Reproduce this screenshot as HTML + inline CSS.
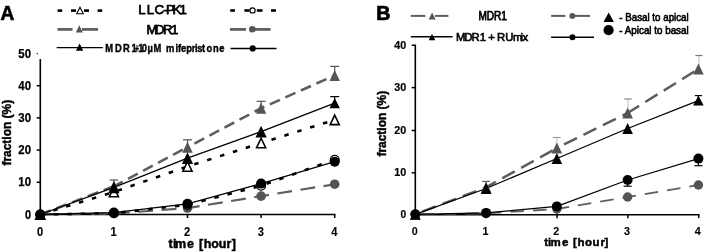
<!DOCTYPE html>
<html lang="en">
<head>
<meta charset="utf-8">
<title>Figure: transport fraction over time</title>
<style>
html,body{margin:0;padding:0;background:#fff;}
body{width:708px;height:252px;overflow:hidden;}
svg{display:block;font-family:"Liberation Sans", Arial, Helvetica, sans-serif;filter:blur(0.45px);}
</style>
</head>
<body>
<svg width="708" height="252" viewBox="0 0 708 252">
<rect x="0" y="0" width="708" height="252" fill="#fff"/>
<line x1="40.30" y1="59.00" x2="40.30" y2="215.25" stroke="#000" stroke-width="1.6"/>
<line x1="39.50" y1="214.50" x2="335.50" y2="214.50" stroke="#000" stroke-width="1.6"/>
<line x1="40.30" y1="214.50" x2="40.30" y2="218.00" stroke="#000" stroke-width="1.5"/>
<line x1="113.90" y1="214.50" x2="113.90" y2="218.00" stroke="#000" stroke-width="1.5"/>
<line x1="187.50" y1="214.50" x2="187.50" y2="218.00" stroke="#000" stroke-width="1.5"/>
<line x1="261.10" y1="214.50" x2="261.10" y2="218.00" stroke="#000" stroke-width="1.5"/>
<line x1="334.70" y1="214.50" x2="334.70" y2="218.00" stroke="#000" stroke-width="1.5"/>
<line x1="36.70" y1="214.50" x2="40.30" y2="214.50" stroke="#000" stroke-width="1.5"/>
<line x1="36.70" y1="182.30" x2="40.30" y2="182.30" stroke="#000" stroke-width="1.5"/>
<line x1="36.70" y1="150.10" x2="40.30" y2="150.10" stroke="#000" stroke-width="1.5"/>
<line x1="36.70" y1="117.90" x2="40.30" y2="117.90" stroke="#000" stroke-width="1.5"/>
<line x1="36.70" y1="85.70" x2="40.30" y2="85.70" stroke="#000" stroke-width="1.5"/>
<rect x="36.7" y="52.9" width="1.3" height="1.3" fill="#333"/>
<text x="31.00" y="218.60" font-size="13" font-weight="bold" text-anchor="end" fill="#000" textLength="6.1" lengthAdjust="spacingAndGlyphs" stroke="#000" stroke-width="0.25">0</text>
<text x="31.00" y="186.40" font-size="13" font-weight="bold" text-anchor="end" fill="#000" textLength="12.7" lengthAdjust="spacingAndGlyphs" stroke="#000" stroke-width="0.25">10</text>
<text x="31.00" y="154.20" font-size="13" font-weight="bold" text-anchor="end" fill="#000" textLength="12.7" lengthAdjust="spacingAndGlyphs" stroke="#000" stroke-width="0.25">20</text>
<text x="31.00" y="122.00" font-size="13" font-weight="bold" text-anchor="end" fill="#000" textLength="12.7" lengthAdjust="spacingAndGlyphs" stroke="#000" stroke-width="0.25">30</text>
<text x="31.00" y="89.80" font-size="13" font-weight="bold" text-anchor="end" fill="#000" textLength="12.7" lengthAdjust="spacingAndGlyphs" stroke="#000" stroke-width="0.25">40</text>
<text x="31.00" y="57.60" font-size="13" font-weight="bold" text-anchor="end" fill="#000" textLength="12.7" lengthAdjust="spacingAndGlyphs" stroke="#000" stroke-width="0.25">50</text>
<text x="40.00" y="235.60" font-size="12.3" font-weight="bold" text-anchor="middle" fill="#000" textLength="6.2" lengthAdjust="spacingAndGlyphs" stroke="#000" stroke-width="0.1">0</text>
<text x="113.60" y="235.60" font-size="12.3" font-weight="bold" text-anchor="middle" fill="#000" textLength="6.2" lengthAdjust="spacingAndGlyphs" stroke="#000" stroke-width="0.1">1</text>
<text x="187.20" y="235.60" font-size="12.3" font-weight="bold" text-anchor="middle" fill="#000" textLength="6.2" lengthAdjust="spacingAndGlyphs" stroke="#000" stroke-width="0.1">2</text>
<text x="260.80" y="235.60" font-size="12.3" font-weight="bold" text-anchor="middle" fill="#000" textLength="6.2" lengthAdjust="spacingAndGlyphs" stroke="#000" stroke-width="0.1">3</text>
<text x="334.40" y="235.60" font-size="12.3" font-weight="bold" text-anchor="middle" fill="#000" textLength="6.2" lengthAdjust="spacingAndGlyphs" stroke="#000" stroke-width="0.1">4</text>
<text x="168.6 172.9 175.0 187.1 194 199.0 203.7 211.3 218.7 226.4 231.7" y="248.0" font-size="12.5" font-weight="bold" stroke="#000" stroke-width="0.45">time [hour]</text>
<text transform="translate(10.7,165.6) rotate(-90)" font-size="13" font-weight="bold" stroke="#000" stroke-width="0.45" textLength="65.8" lengthAdjust="spacingAndGlyphs">fraction (%)</text>
<polyline points="40.30,214.50 113.90,213.53 187.50,208.06 261.10,196.15 334.70,184.23" fill="none" stroke="#5e5e5e" stroke-width="2.2" stroke-linejoin="round" stroke-dasharray="14.9 8.5" stroke-dashoffset="-4.38"/>
<polyline points="40.30,214.50 113.90,186.32" fill="none" stroke="#5e5e5e" stroke-width="2.6" stroke-linejoin="round" stroke-dasharray="11 6"/>
<polyline points="113.90,186.32 187.50,147.20" fill="none" stroke="#5e5e5e" stroke-width="2.6" stroke-linejoin="round" stroke-dasharray="11 6" stroke-dashoffset="-16"/>
<polyline points="187.50,147.20 261.10,108.24 334.70,75.40" fill="none" stroke="#5e5e5e" stroke-width="2.6" stroke-linejoin="round" stroke-dasharray="11 6" stroke-dashoffset="9.160648821810156"/>
<polyline points="40.30,214.50 113.90,213.21 187.50,204.84 261.10,185.68 334.70,159.76" fill="none" stroke="#000" stroke-width="2.6" stroke-linejoin="round" stroke-dasharray="4.5 9"/>
<polyline points="40.30,214.50 113.90,191.96 187.50,166.52 261.10,143.02 334.70,119.83" fill="none" stroke="#000" stroke-width="2.6" stroke-linejoin="round" stroke-dasharray="4.5 9"/>
<polyline points="40.30,214.50 113.90,212.57 187.50,203.87 261.10,183.59 334.70,161.69" fill="none" stroke="#000" stroke-width="1.3" stroke-linejoin="round"/>
<polyline points="40.30,214.50 113.90,187.29 187.50,158.15 261.10,131.58 334.70,103.09" fill="none" stroke="#000" stroke-width="1.3" stroke-linejoin="round"/>
<line x1="334.70" y1="66.40" x2="334.70" y2="75.40" stroke="#545454" stroke-width="1.2"/>
<line x1="330.20" y1="66.40" x2="339.20" y2="66.40" stroke="#545454" stroke-width="1.2"/>
<line x1="261.10" y1="101.30" x2="261.10" y2="108.24" stroke="#545454" stroke-width="1.2"/>
<line x1="256.60" y1="101.30" x2="265.60" y2="101.30" stroke="#545454" stroke-width="1.2"/>
<line x1="187.50" y1="139.80" x2="187.50" y2="147.20" stroke="#545454" stroke-width="1.2"/>
<line x1="183.00" y1="139.80" x2="192.00" y2="139.80" stroke="#545454" stroke-width="1.2"/>
<line x1="113.90" y1="180.00" x2="113.90" y2="186.32" stroke="#555" stroke-width="1.2"/>
<line x1="109.65" y1="180.00" x2="118.15" y2="180.00" stroke="#555" stroke-width="1.2"/>
<line x1="334.70" y1="96.60" x2="334.70" y2="103.09" stroke="#000" stroke-width="1.2"/>
<line x1="330.20" y1="96.60" x2="339.20" y2="96.60" stroke="#000" stroke-width="1.2"/>
<circle cx="40.30" cy="214.50" r="4.8" fill="#545454"/>
<polygon points="40.30,209.00 45.50,220.00 35.10,220.00" fill="#545454"/>
<circle cx="113.90" cy="213.53" r="4.8" fill="#545454"/>
<polygon points="113.90,180.82 119.10,191.82 108.70,191.82" fill="#545454"/>
<circle cx="187.50" cy="208.06" r="4.8" fill="#545454"/>
<polygon points="187.50,141.70 192.70,152.70 182.30,152.70" fill="#545454"/>
<circle cx="261.10" cy="196.15" r="4.8" fill="#545454"/>
<polygon points="261.10,102.74 266.30,113.74 255.90,113.74" fill="#545454"/>
<circle cx="334.70" cy="184.23" r="4.8" fill="#545454"/>
<polygon points="334.70,69.90 339.90,80.90 329.50,80.90" fill="#545454"/>
<polygon points="40.30,209.75 44.85,219.25 35.75,219.25" fill="#fff" stroke="#000" stroke-width="1.6" stroke-linejoin="miter"/>
<circle cx="40.30" cy="214.50" r="4.4" fill="#fff" stroke="#000" stroke-width="1.3"/>
<polygon points="113.90,187.21 118.45,196.71 109.35,196.71" fill="#fff" stroke="#000" stroke-width="1.6" stroke-linejoin="miter"/>
<circle cx="113.90" cy="213.21" r="4.4" fill="#fff" stroke="#000" stroke-width="1.3"/>
<polygon points="187.50,161.77 192.05,171.27 182.95,171.27" fill="#fff" stroke="#000" stroke-width="1.6" stroke-linejoin="miter"/>
<circle cx="187.50" cy="204.84" r="4.4" fill="#fff" stroke="#000" stroke-width="1.3"/>
<polygon points="261.10,138.27 265.65,147.77 256.55,147.77" fill="#fff" stroke="#000" stroke-width="1.6" stroke-linejoin="miter"/>
<circle cx="261.10" cy="185.68" r="4.4" fill="#fff" stroke="#000" stroke-width="1.3"/>
<polygon points="334.70,115.08 339.25,124.58 330.15,124.58" fill="#fff" stroke="#000" stroke-width="1.6" stroke-linejoin="miter"/>
<circle cx="334.70" cy="159.76" r="4.4" fill="#fff" stroke="#000" stroke-width="1.3"/>
<polygon points="40.30,209.35 45.50,219.65 35.10,219.65" fill="#000"/>
<circle cx="40.30" cy="214.50" r="5.0" fill="#000"/>
<polygon points="113.90,181.39 119.50,193.19 108.30,193.19" fill="#000"/>
<circle cx="113.90" cy="212.57" r="5.0" fill="#000"/>
<polygon points="187.50,152.25 193.10,164.05 181.90,164.05" fill="#000"/>
<circle cx="187.50" cy="203.87" r="5.0" fill="#000"/>
<polygon points="261.10,125.68 266.70,137.48 255.50,137.48" fill="#000"/>
<circle cx="261.10" cy="183.59" r="5.0" fill="#000"/>
<polygon points="334.70,97.94 339.90,108.24 329.50,108.24" fill="#000"/>
<circle cx="334.70" cy="161.69" r="5.0" fill="#000"/>
<text x="0.50" y="19.80" font-size="20" font-weight="bold" text-anchor="start" fill="#000" textLength="13.8" lengthAdjust="spacingAndGlyphs" stroke="#000" stroke-width="0.7">A</text>
<line x1="57.50" y1="10.60" x2="62.20" y2="10.60" stroke="#000" stroke-width="2.6"/>
<line x1="71.00" y1="10.60" x2="76.00" y2="10.60" stroke="#000" stroke-width="2.6"/>
<line x1="84.00" y1="10.60" x2="89.00" y2="10.60" stroke="#000" stroke-width="2.6"/>
<line x1="97.60" y1="10.60" x2="102.20" y2="10.60" stroke="#000" stroke-width="2.6"/>
<polygon points="80.00,7.20 83.30,13.80 76.70,13.80" fill="#fff" stroke="#000" stroke-width="1.1" stroke-linejoin="miter"/>
<line x1="230.20" y1="10.50" x2="234.90" y2="10.50" stroke="#000" stroke-width="2.6"/>
<line x1="244.40" y1="10.50" x2="249.40" y2="10.50" stroke="#000" stroke-width="2.6"/>
<line x1="256.80" y1="10.50" x2="262.50" y2="10.50" stroke="#000" stroke-width="2.6"/>
<line x1="271.00" y1="10.50" x2="275.90" y2="10.50" stroke="#000" stroke-width="2.6"/>
<circle cx="252.50" cy="10.40" r="2.6" fill="#fff" stroke="#000" stroke-width="1.2"/>
<text x="138.3 146.7 154.5 163.2 166.0 172.4 179.6" y="14.4" font-size="13.2" stroke="#000" stroke-width="0.75">LLC-PK1</text>
<line x1="57.50" y1="29.40" x2="72.50" y2="29.40" stroke="#606060" stroke-width="2.8"/>
<line x1="82.00" y1="29.40" x2="98.00" y2="29.40" stroke="#606060" stroke-width="2.8"/>
<polygon points="79.30,25.20 82.80,32.60 75.80,32.60" fill="#555"/>
<line x1="230.00" y1="29.40" x2="246.00" y2="29.40" stroke="#606060" stroke-width="2.8"/>
<line x1="254.50" y1="29.40" x2="270.60" y2="29.40" stroke="#606060" stroke-width="2.8"/>
<circle cx="252.30" cy="29.30" r="3.3" fill="#555"/>
<text x="146.5 155.0 163.1 171.0" y="33.6" font-size="13.2" stroke="#000" stroke-width="0.75">MDR1</text>
<line x1="56.70" y1="47.60" x2="102.90" y2="47.60" stroke="#000" stroke-width="1.4"/>
<polygon points="79.60,43.40 83.30,50.80 75.90,50.80" fill="#000"/>
<line x1="230.50" y1="48.50" x2="276.50" y2="48.50" stroke="#000" stroke-width="1.4"/>
<circle cx="252.70" cy="48.40" r="3.1" fill="#000"/>
<text transform="scale(0.85 1)" y="51.7" font-size="11" font-weight="bold" stroke="#000" stroke-width="0.4"><tspan x="123.88 135.18 144.82 154.71">MDR1</tspan><tspan x="158.82" textLength="4.59" lengthAdjust="spacingAndGlyphs">+</tspan><tspan x="162.71 166.82 173.65 180.71 190.59 195.41 206.41 209.29 213.06 219.12 225.47 229.35 232.00 237.76 243.06 250.65 258.00">10µM mifepristone</tspan></text>
<line x1="415.30" y1="44.60" x2="415.30" y2="215.55" stroke="#000" stroke-width="1.6"/>
<line x1="414.50" y1="214.75" x2="699.52" y2="214.75" stroke="#000" stroke-width="1.7"/>
<line x1="415.30" y1="214.75" x2="415.30" y2="218.15" stroke="#000" stroke-width="1.5"/>
<line x1="486.16" y1="214.75" x2="486.16" y2="218.15" stroke="#000" stroke-width="1.5"/>
<line x1="557.01" y1="214.75" x2="557.01" y2="218.15" stroke="#000" stroke-width="1.5"/>
<line x1="627.87" y1="214.75" x2="627.87" y2="218.15" stroke="#000" stroke-width="1.5"/>
<line x1="698.72" y1="214.75" x2="698.72" y2="218.15" stroke="#000" stroke-width="1.5"/>
<line x1="411.70" y1="214.30" x2="415.30" y2="214.30" stroke="#000" stroke-width="1.5"/>
<line x1="411.70" y1="172.80" x2="415.30" y2="172.80" stroke="#000" stroke-width="1.5"/>
<line x1="411.70" y1="130.50" x2="415.30" y2="130.50" stroke="#000" stroke-width="1.5"/>
<line x1="411.70" y1="87.60" x2="415.30" y2="87.60" stroke="#000" stroke-width="1.5"/>
<line x1="411.70" y1="45.30" x2="415.30" y2="45.30" stroke="#000" stroke-width="1.5"/>
<text x="406.30" y="217.90" font-size="11.5" font-weight="bold" text-anchor="end" fill="#000" textLength="5.7" lengthAdjust="spacingAndGlyphs" stroke="#000" stroke-width="0.2">0</text>
<text x="406.30" y="176.40" font-size="11.5" font-weight="bold" text-anchor="end" fill="#000" textLength="12.0" lengthAdjust="spacingAndGlyphs" stroke="#000" stroke-width="0.2">10</text>
<text x="406.30" y="134.10" font-size="11.5" font-weight="bold" text-anchor="end" fill="#000" textLength="12.0" lengthAdjust="spacingAndGlyphs" stroke="#000" stroke-width="0.2">20</text>
<text x="406.30" y="91.20" font-size="11.5" font-weight="bold" text-anchor="end" fill="#000" textLength="12.0" lengthAdjust="spacingAndGlyphs" stroke="#000" stroke-width="0.2">30</text>
<text x="406.30" y="48.90" font-size="11.5" font-weight="bold" text-anchor="end" fill="#000" textLength="12.0" lengthAdjust="spacingAndGlyphs" stroke="#000" stroke-width="0.2">40</text>
<text x="414.70" y="235.00" font-size="11.5" font-weight="bold" text-anchor="middle" fill="#000" textLength="6.0" lengthAdjust="spacingAndGlyphs" stroke="#000" stroke-width="0.1">0</text>
<text x="485.48" y="235.00" font-size="11.5" font-weight="bold" text-anchor="middle" fill="#000" textLength="6.0" lengthAdjust="spacingAndGlyphs" stroke="#000" stroke-width="0.1">1</text>
<text x="556.26" y="235.00" font-size="11.5" font-weight="bold" text-anchor="middle" fill="#000" textLength="6.0" lengthAdjust="spacingAndGlyphs" stroke="#000" stroke-width="0.1">2</text>
<text x="627.04" y="235.00" font-size="11.5" font-weight="bold" text-anchor="middle" fill="#000" textLength="6.0" lengthAdjust="spacingAndGlyphs" stroke="#000" stroke-width="0.1">3</text>
<text x="697.82" y="235.00" font-size="11.5" font-weight="bold" text-anchor="middle" fill="#000" textLength="6.0" lengthAdjust="spacingAndGlyphs" stroke="#000" stroke-width="0.1">4</text>
<text x="544.2 548.1 550.6 562.0 569 573.0 577.6 585.1 592.5 600.5 604.6" y="245.9" font-size="11.5" font-weight="bold" stroke="#000" stroke-width="0.45">time [hour]</text>
<text transform="translate(385.5,156.6) rotate(-90)" font-size="12.2" font-weight="bold" stroke="#000" stroke-width="0.45" textLength="65.8" lengthAdjust="spacingAndGlyphs">fraction (%)</text>
<polyline points="415.30,214.30 486.08,213.40 556.86,209.00 627.64,197.00 698.42,185.00" fill="none" stroke="#5e5e5e" stroke-width="1.8" stroke-linejoin="round" stroke-dasharray="13.6 9.0" stroke-dashoffset="-4.84"/>
<polyline points="415.30,214.30 486.08,187.30 556.86,148.00" fill="none" stroke="#5e5e5e" stroke-width="2.5" stroke-linejoin="round" stroke-dasharray="14.4 7.3" stroke-dashoffset="-7.39"/>
<polyline points="556.86,148.00 627.64,113.00" fill="none" stroke="#5e5e5e" stroke-width="2.5" stroke-linejoin="round" stroke-dasharray="14.4 7.3" stroke-dashoffset="-7.97"/>
<polyline points="627.64,113.00 698.42,69.00" fill="none" stroke="#5e5e5e" stroke-width="2.5" stroke-linejoin="round" stroke-dasharray="14.4 7.3" stroke-dashoffset="-20.79"/>
<polyline points="415.30,214.30 486.08,212.90 556.86,206.40 627.64,180.00 698.42,158.60" fill="none" stroke="#000" stroke-width="1.3" stroke-linejoin="round"/>
<polyline points="415.30,214.30 486.08,188.50 556.86,158.50 627.64,128.50 698.42,100.60" fill="none" stroke="#000" stroke-width="1.3" stroke-linejoin="round"/>
<line x1="698.92" y1="55.50" x2="698.92" y2="69.00" stroke="#c8c8c8" stroke-width="1.2"/>
<line x1="695.42" y1="55.50" x2="702.42" y2="55.50" stroke="#777" stroke-width="1.2"/>
<line x1="627.94" y1="99.00" x2="627.94" y2="113.00" stroke="#c8c8c8" stroke-width="1.2"/>
<line x1="624.19" y1="99.00" x2="631.69" y2="99.00" stroke="#888" stroke-width="1.2"/>
<line x1="556.86" y1="137.50" x2="556.86" y2="148.00" stroke="#d0d0d0" stroke-width="1.2"/>
<line x1="553.11" y1="137.50" x2="560.61" y2="137.50" stroke="#999" stroke-width="1.2"/>
<line x1="486.08" y1="181.40" x2="486.08" y2="188.50" stroke="#555" stroke-width="1.1"/>
<line x1="482.08" y1="181.40" x2="490.08" y2="181.40" stroke="#555" stroke-width="1.1"/>
<line x1="698.42" y1="95.60" x2="698.42" y2="100.60" stroke="#000" stroke-width="1.2"/>
<line x1="694.82" y1="95.60" x2="702.02" y2="95.60" stroke="#000" stroke-width="1.2"/>
<line x1="698.42" y1="165.70" x2="698.42" y2="158.60" stroke="#000" stroke-width="1.2"/>
<line x1="694.42" y1="165.70" x2="702.42" y2="165.70" stroke="#000" stroke-width="1.2"/>
<line x1="627.64" y1="186.20" x2="627.64" y2="180.00" stroke="#000" stroke-width="1.2"/>
<line x1="623.64" y1="186.20" x2="631.64" y2="186.20" stroke="#000" stroke-width="1.2"/>
<line x1="556.86" y1="214.00" x2="556.86" y2="209.00" stroke="#555" stroke-width="1.2"/>
<circle cx="415.30" cy="214.30" r="4.7" fill="#545454"/>
<polygon points="415.30,208.80 420.60,219.80 410.00,219.80" fill="#545454"/>
<circle cx="486.08" cy="213.40" r="4.7" fill="#545454"/>
<polygon points="486.08,181.80 491.38,192.80 480.78,192.80" fill="#545454"/>
<circle cx="556.86" cy="209.00" r="4.7" fill="#545454"/>
<polygon points="556.86,142.50 562.16,153.50 551.56,153.50" fill="#545454"/>
<circle cx="627.64" cy="197.00" r="4.7" fill="#545454"/>
<polygon points="627.64,107.50 632.94,118.50 622.34,118.50" fill="#545454"/>
<circle cx="698.42" cy="185.00" r="4.7" fill="#545454"/>
<polygon points="698.42,63.50 703.72,74.50 693.12,74.50" fill="#545454"/>
<polygon points="415.30,208.80 420.60,219.80 410.00,219.80" fill="#000"/>
<circle cx="415.30" cy="214.30" r="5.0" fill="#000"/>
<polygon points="486.08,183.00 491.38,194.00 480.78,194.00" fill="#000"/>
<circle cx="486.08" cy="212.90" r="5.0" fill="#000"/>
<polygon points="556.86,153.00 562.16,164.00 551.56,164.00" fill="#000"/>
<circle cx="556.86" cy="206.40" r="5.0" fill="#000"/>
<polygon points="627.64,123.00 632.94,134.00 622.34,134.00" fill="#000"/>
<circle cx="627.64" cy="180.00" r="5.0" fill="#000"/>
<polygon points="698.42,95.70 703.72,105.50 693.12,105.50" fill="#000"/>
<circle cx="698.42" cy="158.60" r="5.0" fill="#000"/>
<text x="376.20" y="19.80" font-size="20" font-weight="bold" text-anchor="start" fill="#000" textLength="14.2" lengthAdjust="spacingAndGlyphs" stroke="#000" stroke-width="0.7">B</text>
<line x1="410.80" y1="15.90" x2="425.40" y2="15.90" stroke="#5e5e5e" stroke-width="2.0"/>
<line x1="435.00" y1="15.90" x2="448.40" y2="15.90" stroke="#5e5e5e" stroke-width="2.0"/>
<polygon points="432.10,12.60 435.60,19.40 428.60,19.40" fill="#545454"/>
<line x1="551.10" y1="15.90" x2="565.40" y2="15.90" stroke="#5e5e5e" stroke-width="2.0"/>
<line x1="574.50" y1="15.90" x2="590.00" y2="15.90" stroke="#5e5e5e" stroke-width="2.0"/>
<circle cx="572.30" cy="15.90" r="2.9" fill="#545454"/>
<text x="478.40" y="19.80" font-size="11.9" font-weight="normal" text-anchor="start" fill="#000" textLength="28.6" lengthAdjust="spacingAndGlyphs" stroke="#000" stroke-width="0.75">MDR1</text>
<line x1="410.80" y1="36.80" x2="452.60" y2="36.80" stroke="#000" stroke-width="1.4"/>
<polygon points="432.00,33.70 435.40,40.30 428.60,40.30" fill="#000"/>
<line x1="551.10" y1="37.30" x2="594.00" y2="37.30" stroke="#000" stroke-width="1.4"/>
<circle cx="572.50" cy="37.20" r="3.0" fill="#000"/>
<text x="456.0 464.3 471.6 479.8 485.5 488.2 494 496.9 505.3 513.05 520.55 522.4" y="40.6" font-size="11.3" stroke="#000" stroke-width="0.6">MDR1 + RUmix</text>
<polygon points="608.70,12.60 613.90,22.00 603.50,22.00" fill="#000"/>
<circle cx="608.60" cy="30.20" r="5.1" fill="#000"/>
<text x="619.30" y="20.80" font-size="10.5" font-weight="normal" text-anchor="start" fill="#000" textLength="69.4" lengthAdjust="spacingAndGlyphs" stroke="#000" stroke-width="0.6">- Basal to apical</text>
<text x="619.30" y="33.90" font-size="10.5" font-weight="normal" text-anchor="start" fill="#000" textLength="69.4" lengthAdjust="spacingAndGlyphs" stroke="#000" stroke-width="0.6">- Apical to basal</text>
</svg>
</body>
</html>
